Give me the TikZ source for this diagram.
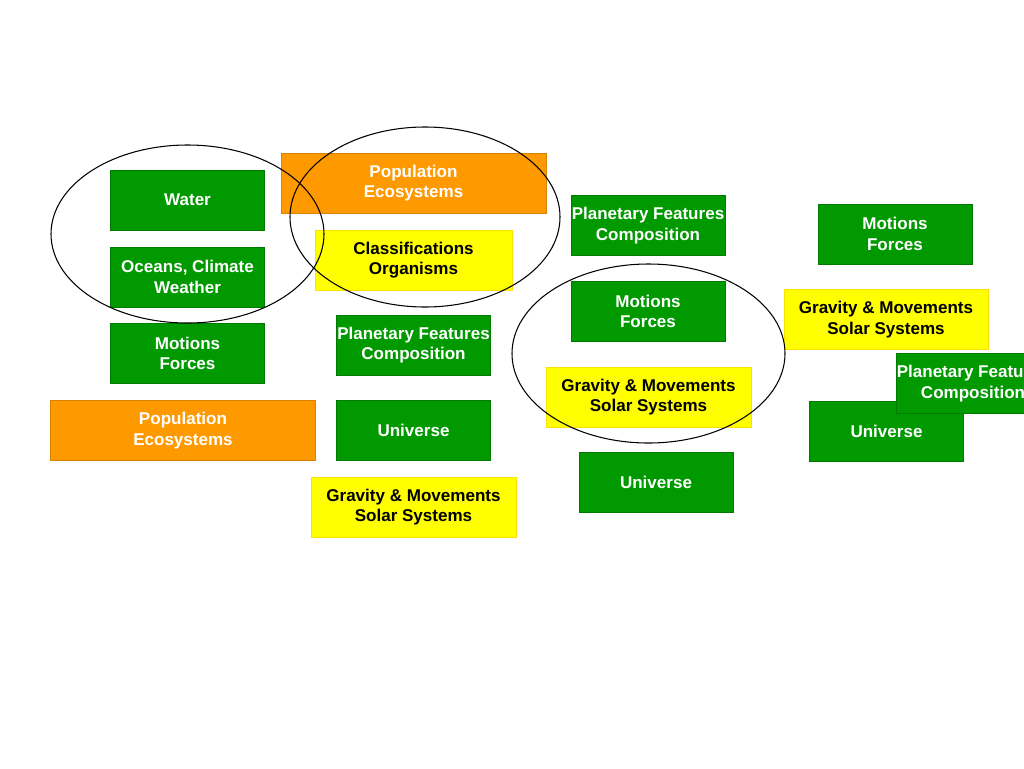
\documentclass[tikz,border=0pt]{standalone}
\usepackage{fontspec}
\setmainfont{Liberation Sans}
\usetikzlibrary{positioning}

\definecolor{boxgreen}{HTML}{009900}
\definecolor{boxorange}{HTML}{FF9900}
\definecolor{boxyellow}{HTML}{FFFF00}

\tikzset{
    topic/.style={inner sep=0pt, align=center, minimum height=1.2cm,
        font=\fontsize{9.7}{11.6}\selectfont\bfseries},
    greenbox/.style={topic, fill=boxgreen, draw=boxgreen!80!black, text=white, minimum width=3.08cm},
    orangebox/.style={topic, fill=boxorange, draw=boxorange!85!black, text=white, minimum width=5.3cm},
    yellowbox/.style={topic, fill=boxyellow, draw=boxyellow!75!orange, text=black},
    group/.style={draw=black, line width=0.6pt}
}

\begin{document}
\begin{tikzpicture}[x=0.02cm, y=-0.02cm]
    \clip (0,0) rectangle (1024,768);
    \fill[white] (0,0) rectangle (1024,768);

    % left column
    \node[greenbox] (water) at (187.5,200) {Water};
    \node[greenbox] (oceans) at (187.5,277) {Oceans, Climate\\Weather};
    \node[greenbox] (motionsA) at (187.5,353.5) {Motions\\Forces};
    \node[orangebox] (populationA) at (183,430.5) {Population\\Ecosystems};

    % second column
    \node[orangebox] (populationB) at (413.5,183) {Population\\Ecosystems};
    \node[yellowbox, minimum width=3.94cm] (classes) at (413.5,260) {Classifications\\Organisms};
    \node[greenbox] (planetaryA) at (413.5,345) {Planetary Features\\Composition};
    \node[greenbox] (universeA) at (413.5,430.5) {Universe};
    \node[yellowbox, minimum width=4.1cm] (gravityA) at (413.5,507) {Gravity \& Movements\\Solar Systems};

    % third column
    \node[greenbox] (planetaryB) at (648,225.5) {Planetary Features\\Composition};
    \node[greenbox] (motionsB) at (648,311.5) {Motions\\Forces};
    \node[yellowbox, minimum width=4.1cm] (gravityB) at (648.5,397) {Gravity \& Movements\\Solar Systems};
    \node[greenbox] (universeB) at (656,482) {Universe};

    % right column
    \node[greenbox] (motionsC) at (895,234) {Motions\\Forces};
    \node[yellowbox, minimum width=4.08cm] (gravityC) at (886,319.5) {Gravity \& Movements\\Solar Systems};
    \node[greenbox] (universeC) at (886.5,431) {Universe};
    \node[greenbox] (planetaryC) at (973,383.5) {Planetary Features\\Composition};

    % groupings
    \draw[group] (187.5,234) ellipse [x radius=136.5, y radius=89];
    \draw[group] (425,217) ellipse [x radius=135, y radius=90];
    \draw[group] (648.5,353.5) ellipse [x radius=136.5, y radius=89.5];
\end{tikzpicture}
\end{document}
